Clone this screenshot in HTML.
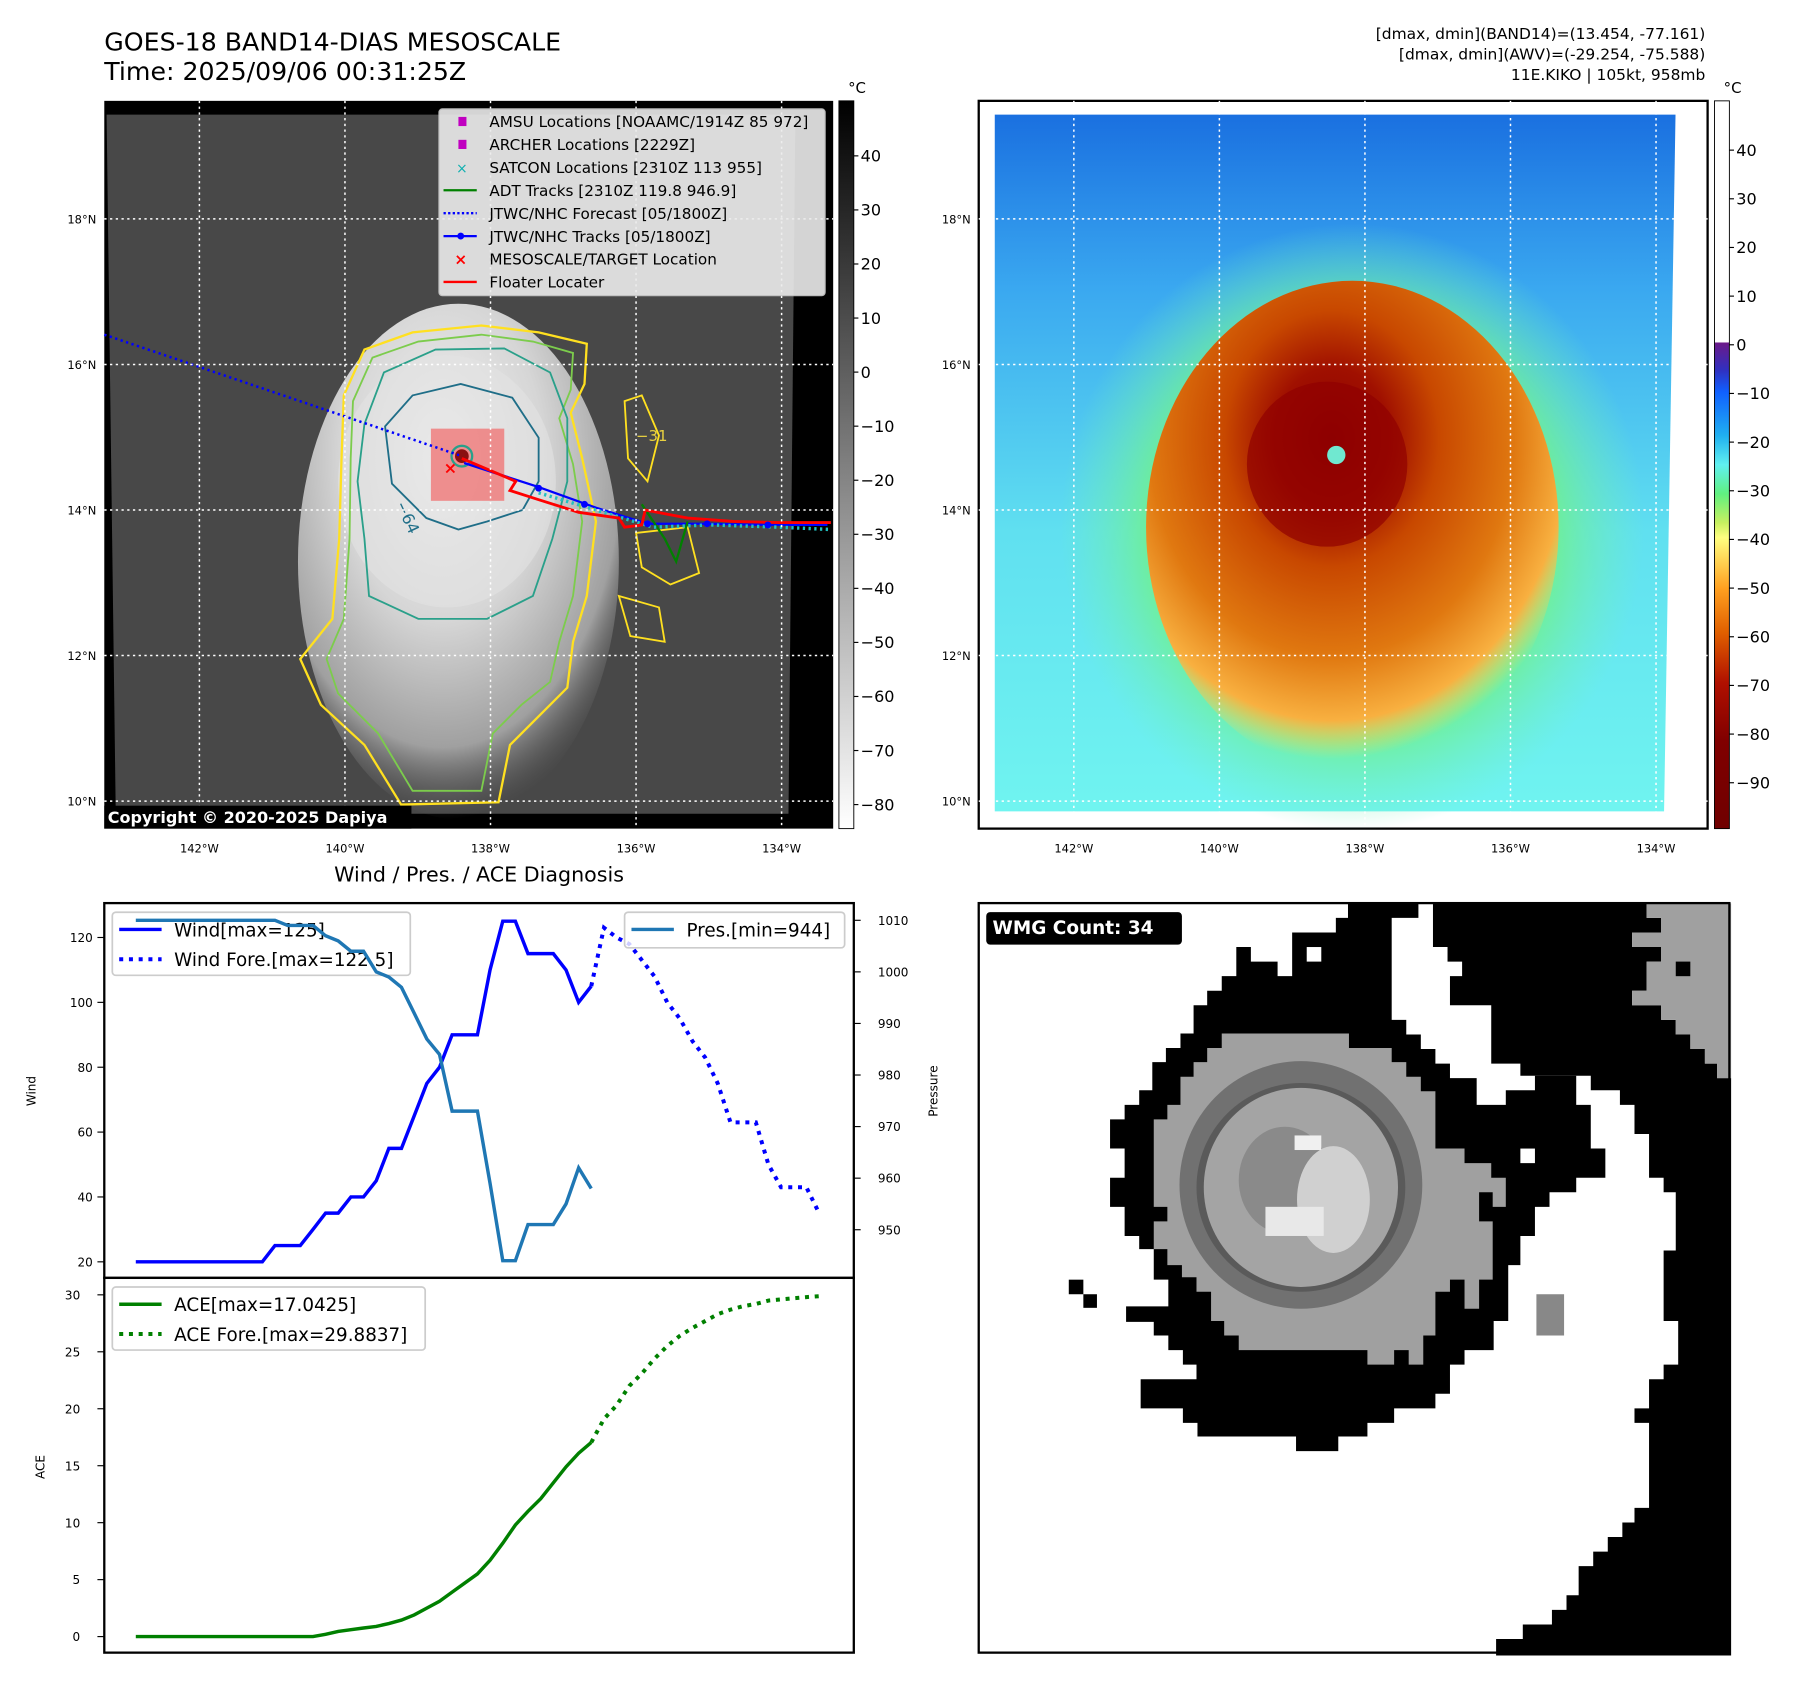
<!DOCTYPE html>
<html><head><meta charset="utf-8"><style>
html,body{margin:0;padding:0;background:#fff;}
svg{display:block;font-family:"DejaVu Sans","Liberation Sans",sans-serif;}
</style></head><body>
<svg id="root" width="1797" height="1690" viewBox="0 0 1568 1474.6" preserveAspectRatio="none" xmlns="http://www.w3.org/2000/svg">
<defs>
<linearGradient id="cbGray" x1="0" y1="0" x2="0" y2="1"><stop offset="0" stop-color="#000"/><stop offset="1" stop-color="#fff"/></linearGradient>
<linearGradient id="cbJet" x1="0" y1="0" x2="0" y2="1">
<stop offset="0" stop-color="#fff"/><stop offset="0.331" stop-color="#fff"/>
<stop offset="0.333" stop-color="#6a1a8a"/><stop offset="0.37" stop-color="#3030c0"/>
<stop offset="0.40" stop-color="#1060ff"/><stop offset="0.46" stop-color="#20b0f0"/>
<stop offset="0.50" stop-color="#60f0f0"/><stop offset="0.54" stop-color="#60f080"/>
<stop offset="0.58" stop-color="#c8f060"/><stop offset="0.60" stop-color="#ffff80"/>
<stop offset="0.67" stop-color="#ffa020"/><stop offset="0.73" stop-color="#e06000"/>
<stop offset="0.80" stop-color="#b01000"/><stop offset="0.88" stop-color="#800000"/><stop offset="1" stop-color="#700000"/>
</linearGradient>
<radialGradient id="cloud" cx="0.45" cy="0.3" r="0.7"><stop offset="0" stop-color="#f2f2f2"/><stop offset="0.45" stop-color="#d6d6d6"/><stop offset="0.8" stop-color="#a0a0a0"/><stop offset="1" stop-color="#606060" stop-opacity="0"/></radialGradient>
<linearGradient id="sky" x1="0" y1="0" x2="0" y2="1"><stop offset="0" stop-color="#1a70e0"/><stop offset="0.25" stop-color="#3aa8f0"/><stop offset="0.6" stop-color="#60e0f0"/><stop offset="1" stop-color="#70f4f0"/></linearGradient>
<radialGradient id="halo" cx="0.5" cy="0.5" r="0.5"><stop offset="0" stop-color="#a0f060"/><stop offset="0.7" stop-color="#70f090"/><stop offset="1" stop-color="#70f0c0" stop-opacity="0"/></radialGradient>
<radialGradient id="storm" cx="0.45" cy="0.32" r="0.65"><stop offset="0" stop-color="#8a0000"/><stop offset="0.22" stop-color="#a01000"/><stop offset="0.4" stop-color="#c84800"/><stop offset="0.68" stop-color="#e07810"/><stop offset="0.88" stop-color="#f8b040"/><stop offset="1" stop-color="#f8e060" stop-opacity="0"/></radialGradient>
</defs>

<text x="91" y="44" font-size="22">GOES-18 BAND14-DIAS MESOSCALE</text>
<text x="91" y="70" font-size="22">Time: 2025/09/06 00:31:25Z</text>
<g font-size="13.5" text-anchor="end">
<text x="1488" y="34">[dmax, dmin](BAND14)=(13.454, -77.161)</text>
<text x="1488" y="52">[dmax, dmin](AWV)=(-29.254, -75.588)</text>
<text x="1488" y="70">11E.KIKO | 105kt, 958mb</text>
</g>

<g>
<rect x="91" y="88" width="636" height="635" fill="#000"/>
<polygon points="93,100 694,100 688,710 101,710" fill="#484848"/>
<ellipse cx="400" cy="490" rx="140" ry="225" fill="url(#cloud)"/>
<ellipse cx="390" cy="420" rx="95" ry="110" fill="#e2e2e2" opacity="0.6"/>
<path d="M300,345 L318,305 L360,290 L420,284 L470,290 L512,300 L510,335 L498,360 L508,400 L520,455 L512,520 L500,560 L495,600 L470,625 L445,650 L435,700 L350,702 L318,650 L280,615 L262,575 L290,540 L296,470 L298,400 Z" fill="none" stroke="#ffe020" stroke-width="2"/>
<path d="M308,350 L325,312 L365,298 L420,292 L465,298 L500,308 L498,340 L488,365 L500,405 L508,455 L500,520 L488,560 L480,595 L455,615 L430,640 L420,690 L360,690 L330,640 L295,605 L285,575 L300,540 L305,470 L306,400 Z" fill="none" stroke="#7ccc4c" stroke-width="1.6"/>
<path d="M318,370 L335,325 L380,305 L440,304 L480,325 L495,365 L495,420 L482,470 L465,520 L425,540 L365,540 L322,520 L318,470 L312,420 Z" fill="none" stroke="#2aa08a" stroke-width="1.6"/>
<path d="M336,372 L360,345 L402,335 L447,347 L470,382 L470,420 L456,445 L425,455 L400,462 L372,452 L342,422 Z" fill="none" stroke="#1f6e88" stroke-width="1.6"/>
<path d="M545,350 L560,345 L575,380 L565,420 L548,400 Z M555,465 L600,460 L610,500 L585,510 L560,495 Z M540,520 L575,530 L580,560 L550,555 Z" fill="none" stroke="#ffe020" stroke-width="1.6"/>
<text x="345" y="440" font-size="14" fill="#1f6e88" transform="rotate(65 345 440)">−64</text>
<text x="555" y="385" font-size="13" fill="#e8d040">−31</text>
<rect x="376" y="374" width="64" height="63" fill="#f07070" opacity="0.75"/>
<circle cx="403" cy="398" r="9" fill="none" stroke="#2aa08a" stroke-width="2"/>
<circle cx="403" cy="398" r="6" fill="#8a1010"/>
<line x1="91" y1="292" x2="403" y2="398" stroke="#0000ff" stroke-width="2.2" stroke-dasharray="2,3"/>
<polyline points="405,404 470,425 520,443 565,457 617,457 670,458 722,458" fill="none" stroke="#0000ff" stroke-width="2"/>
<polyline points="560,440 580,470 590,490 600,455" fill="none" stroke="#008000" stroke-width="2"/>
<polyline points="470,430 520,445 570,460 620,458 680,460 725,462" fill="none" stroke="#20c0c0" stroke-width="3" stroke-dasharray="2,3"/>
<polyline points="403,400 450,420 445,428 470,436 505,447 540,452 545,460 560,458 563,445 600,452 640,455 680,456 725,456" fill="none" stroke="#ff0000" stroke-width="2.5"/>
<g fill="#0000ff"><circle cx="470" cy="426" r="3"/><circle cx="510" cy="440" r="3"/><circle cx="565" cy="457" r="3"/><circle cx="617" cy="457" r="3"/><circle cx="670" cy="458" r="3"/></g>
<text x="393" y="413" font-size="14" fill="#ff0000" text-anchor="middle" font-weight="bold">×</text>
<g stroke="#fff" stroke-width="1.3" stroke-dasharray="2,3">
<line x1="91" y1="191" x2="727" y2="191"/><line x1="91" y1="318" x2="727" y2="318"/><line x1="91" y1="445" x2="727" y2="445"/><line x1="91" y1="572" x2="727" y2="572"/><line x1="91" y1="699" x2="727" y2="699"/>
<line x1="174" y1="88" x2="174" y2="723"/><line x1="301" y1="88" x2="301" y2="723"/><line x1="428" y1="88" x2="428" y2="723"/><line x1="555" y1="88" x2="555" y2="723"/><line x1="682" y1="88" x2="682" y2="723"/>
</g>
<rect x="91" y="703" width="268" height="20" fill="#000"/>
<text x="94" y="718" font-size="14" font-weight="bold" fill="#fff">Copyright © 2020-2025 Dapiya</text>
<g>
<rect x="383" y="95" width="337" height="163" rx="3" fill="#ececec" opacity="0.9" stroke="#ccc"/>
<g font-size="13.3">
<rect x="400" y="102" width="7" height="8" fill="#c000c0"/><text x="427" y="111">AMSU Locations [NOAAMC/1914Z 85 972]</text>
<rect x="400" y="122" width="7" height="8" fill="#c000c0"/><text x="427" y="131">ARCHER Locations [2229Z]</text>
<text x="403" y="151" fill="#10b0b0" text-anchor="middle" font-size="12">×</text><text x="427" y="151">SATCON Locations [2310Z 113 955]</text>
<line x1="387" y1="166" x2="416" y2="166" stroke="#008000" stroke-width="2"/><text x="427" y="171">ADT Tracks [2310Z 119.8 946.9]</text>
<line x1="387" y1="186" x2="416" y2="186" stroke="#0000ff" stroke-width="2" stroke-dasharray="2,2"/><text x="427" y="191">JTWC/NHC Forecast [05/1800Z]</text>
<line x1="387" y1="206" x2="416" y2="206" stroke="#0000ff" stroke-width="2"/><circle cx="402" cy="206" r="3" fill="#0000ff"/><text x="427" y="211">JTWC/NHC Tracks [05/1800Z]</text>
<text x="402" y="231" fill="#ff0000" text-anchor="middle" font-weight="bold">×</text><text x="427" y="231">MESOSCALE/TARGET Location</text>
<line x1="387" y1="246" x2="416" y2="246" stroke="#ff0000" stroke-width="2"/><text x="427" y="251">Floater Locater</text>
</g></g>
</g>
<g font-size="10">
<g text-anchor="end"><text x="84" y="195">18°N</text><text x="84" y="322">16°N</text><text x="84" y="449">14°N</text><text x="84" y="576">12°N</text><text x="84" y="703">10°N</text></g>
<g text-anchor="middle"><text x="174" y="744">142°W</text><text x="301" y="744">140°W</text><text x="428" y="744">138°W</text><text x="555" y="744">136°W</text><text x="682" y="744">134°W</text></g>
</g>
<g>
<rect x="732" y="88" width="13" height="635" fill="url(#cbGray)" stroke="#000" stroke-width="0.8"/>
<text x="740" y="81" font-size="13">°C</text>
<g font-size="14" id="cbLeftTicks"></g>
</g>

<g>
<rect x="854" y="88" width="636" height="635" fill="#fff" stroke="#000" stroke-width="2"/>
<polygon points="868,100 1462,100 1452,708 868,708" fill="url(#sky)"/>
<ellipse cx="1180" cy="460" rx="255" ry="265" fill="url(#halo)" opacity="0.85"/>
<ellipse cx="1180" cy="460" rx="180" ry="215" fill="url(#storm)"/>
<ellipse cx="1158" cy="405" rx="70" ry="72" fill="#900000" opacity="0.7"/>
<circle cx="1166" cy="397" r="8" fill="#70e8d0"/>
<g stroke="#fff" stroke-width="1.3" stroke-dasharray="2,3">
<line x1="854" y1="191" x2="1490" y2="191"/><line x1="854" y1="318" x2="1490" y2="318"/><line x1="854" y1="445" x2="1490" y2="445"/><line x1="854" y1="572" x2="1490" y2="572"/><line x1="854" y1="699" x2="1490" y2="699"/>
<line x1="937" y1="88" x2="937" y2="723"/><line x1="1064" y1="88" x2="1064" y2="723"/><line x1="1191" y1="88" x2="1191" y2="723"/><line x1="1318" y1="88" x2="1318" y2="723"/><line x1="1445" y1="88" x2="1445" y2="723"/>
</g>
</g>
<g font-size="10">
<g text-anchor="end"><text x="847" y="195">18°N</text><text x="847" y="322">16°N</text><text x="847" y="449">14°N</text><text x="847" y="576">12°N</text><text x="847" y="703">10°N</text></g>
<g text-anchor="middle"><text x="937" y="744">142°W</text><text x="1064" y="744">140°W</text><text x="1191" y="744">138°W</text><text x="1318" y="744">136°W</text><text x="1445" y="744">134°W</text></g>
</g>
<g>
<rect x="1496" y="88" width="13" height="635" fill="url(#cbJet)" stroke="#000" stroke-width="0.8"/>
<text x="1504" y="81" font-size="13">°C</text>
<g font-size="14" id="cbRightTicks"></g>
</g>

<text x="418" y="769" font-size="18" text-anchor="middle">Wind / Pres. / ACE Diagnosis</text>
<g id="chart"></g>

<g>
<rect x="854" y="788" width="655" height="654" fill="#fff"/>
<g transform="translate(854.2,788.2) scale(0.4237)">
<polygon fill="#000" points="530,90 560,90 560,120 615,120 615,150 645,150 645,60 735,60 735,30 760,30 760,0 905,0 905,30 850,30 850,240 880,240 880,270 910,270 910,300 940,300 940,330 970,330 970,360 1025,360 1025,415 1085,415 1085,385 1145,385 1145,355 1230,355 1230,415 1260,415 1260,505 1290,505 1290,565 1230,565 1230,595 1175,595 1175,625 1145,625 1145,685 1115,685 1115,745 1090,745 1090,860 1060,860 1060,920 1000,920 1000,950 970,950 970,1010 940,1010 940,1040 855,1040 855,1070 800,1070 800,1098 740,1098 740,1128 653,1128 653,1098 450,1098 450,1070 420,1070 420,1040 333,1040 333,980 448,980 448,950 420,950 420,920 390,920 390,890 360,890 360,862 303,862 303,830 390,830 390,775 360,775 360,712 330,712 330,685 300,685 300,625 270,625 270,565 300,565 300,505 270,505 270,445 300,445 300,415 330,415 330,385 357,385 357,327 385,327 385,298 415,298 415,268 442,268 442,210 470,210 470,180 500,180 500,150 530,150"/>
<polygon fill="#000" points="935,0 1375,0 1375,30 1405,30 1405,60 1345,60 1345,90 1405,90 1405,120 1375,120 1375,180 1345,180 1345,210 1405,210 1405,240 1435,240 1435,270 1465,270 1465,300 1495,300 1495,330 1520,330 1520,360 1549,360 1549,1549 1065,1549 1065,1515 1120,1515 1120,1485 1180,1485 1180,1455 1210,1455 1210,1425 1235,1425 1235,1365 1265,1365 1265,1335 1295,1335 1295,1305 1325,1305 1325,1275 1350,1275 1350,1245 1380,1245 1380,1070 1350,1070 1350,1040 1380,1040 1380,980 1410,980 1410,950 1440,950 1440,860 1410,860 1410,715 1435,715 1435,595 1410,595 1410,565 1380,565 1380,475 1350,475 1350,415 1320,415 1320,385 1260,385 1260,355 1115,355 1115,330 1055,330 1055,210 970,210 970,150 995,150 995,120 965,120 965,90 935,90"/>
<rect x="1115" y="505" width="30" height="30" fill="#fff"/>
<rect x="675" y="90" width="30" height="30" fill="#fff"/>
<polygon fill="#a0a0a0" points="1375,0 1549,0 1549,360 1520,360 1520,330 1495,330 1495,300 1465,300 1465,270 1435,270 1435,240 1405,240 1405,210 1345,210 1345,180 1375,180 1375,120 1405,120 1405,90 1345,90 1345,60 1405,60 1405,30 1375,30"/>
<rect x="1435" y="120" width="30" height="30" fill="#000"/>
<polygon fill="#a0a0a0" points="500,268 762,268 762,298 850,298 850,327 880,327 880,357 910,357 910,387 940,387 940,505 1000,505 1000,535 1055,535 1055,565 1085,565 1085,625 1058,625 1058,595 1030,595 1030,655 1058,655 1058,775 1030,775 1030,835 1000,835 1000,775 970,775 970,800 940,800 940,890 915,890 915,950 885,950 885,920 855,920 855,950 800,950 800,920 535,920 535,890 505,890 505,860 478,860 478,800 448,800 448,770 418,770 418,745 388,745 388,712 360,712 360,655 388,655 388,625 360,625 360,445 388,445 388,415 415,415 415,357 442,357 442,327 470,327 470,298 500,298"/>
<rect x="1148" y="805" width="57" height="85" fill="#888"/>
<rect x="185" y="775" width="30" height="30" fill="#000"/><rect x="215" y="805" width="28" height="28" fill="#000"/>
<ellipse cx="663" cy="580" rx="250" ry="255" fill="#717171"/>
<ellipse cx="663" cy="585" rx="215" ry="215" fill="#5a5a5a"/>
<ellipse cx="663" cy="585" rx="200" ry="205" fill="#a4a4a4"/>
<ellipse cx="630" cy="570" rx="95" ry="110" fill="#8a8a8a"/>
<ellipse cx="730" cy="610" rx="75" ry="110" fill="#d0d0d0"/>
<rect x="650" y="478" width="55" height="30" fill="#f0f0f0"/>
<rect x="590" y="625" width="120" height="60" fill="#e8e8e8"/>
<rect x="15" y="18" width="403" height="67" rx="8" fill="#000"/>
<text x="28" y="63" font-size="38" font-weight="bold" fill="#fff">WMG Count: 34</text>
</g>
<rect x="854" y="788" width="655" height="654" fill="none" stroke="#000" stroke-width="2"/>
</g>
</svg>
<script>
var windVals = [20,20,20,20,20,20,20,20,20,20,20,25,25,25,30,35,35,40,40,45,55,55,65,75,80,90,90,90,110,125,125,115,115,115,110,100,105];
var windFore = [105,123,120,118,113,108,100,95,88,83,75,63,63,63,50,43,43,43,35];
var presVals = [1010,1010,1010,1010,1010,1010,1010,1010,1010,1010,1010,1010,1009,1009,1009,1007,1006,1004,1004,1000,999,997,992,987,984,973,973,973,959,944,944,951,951,951,955,962,958];
var aceVals = [0,0,0,0,0,0,0,0,0,0,0,0,0,0,0,0.2,0.45,0.6,0.75,0.9,1.15,1.45,1.9,2.5,3.1,3.9,4.7,5.5,6.7,8.2,9.8,11.0,12.1,13.5,14.9,16.1,17.04];
var aceFore = [17.04,19.1,20.3,22.0,23.1,24.4,25.5,26.4,27.1,27.7,28.3,28.7,29.0,29.2,29.5,29.6,29.7,29.8,29.88];
var windTicks = [20,40,60,80,100,120];
var presTicks = [950,960,970,980,990,1000,1010];
var aceTicks = [0,5,10,15,20,25,30];
var cbLeftTicks = [40,30,20,10,0,-10,-20,-30,-40,-50,-60,-70,-80];
var cbRightTicks = [40,30,20,10,0,-10,-20,-30,-40,-50,-60,-70,-80,-90];
var foreStart = windVals.length - 1;

var NS = "http://www.w3.org/2000/svg";
function mk(tag, attrs, parent){ var e=document.createElementNS(NS,tag); for(var k in attrs) e.setAttribute(k,attrs[k]); parent.appendChild(e); return e; }
function xS(i){ return 118.5 + 11.04*i; }
function yWind(v){ return 1101 - (v-20)*2.83; }
function yPres(p){ return 803 + (1010-p)*4.5; }
function yAce(v){ return 1428 - v*9.94; }
function fmt(v){ return v<0 ? "\u2212"+Math.abs(v) : String(v); }

var gl = document.getElementById('cbLeftTicks');
cbLeftTicks.forEach(function(v){
  var y = 136 + (40-v)*4.717;
  var l = mk('line',{x1:745,y1:y,x2:749,y2:y,stroke:'#000'},gl);
  
  
  var t = mk('text',{x:751,y:y+5},gl); t.textContent = fmt(v);
  
  
});
var gr = document.getElementById('cbRightTicks');
cbRightTicks.forEach(function(v){
  var y = 131 + (40-v)*4.246;
  var l = mk('line',{x1:1509,y1:y,x2:1513,y2:y,stroke:'#000'},gr);
  
  
  var t = mk('text',{x:1515,y:y+5},gr); t.textContent = fmt(v);
  
  
});

var g = document.getElementById('chart');
function pts(arr, off, yf){ return arr.map(function(v,i){ return xS(i+off).toFixed(1)+","+yf(v).toFixed(1); }).join(" "); }

var f1 = mk('rect',{x:91,y:788,width:654,height:327,fill:'#fff',stroke:'#000','stroke-width':2},g);


var f2 = mk('rect',{x:91,y:1115,width:654,height:327,fill:'#fff',stroke:'#000','stroke-width':2},g);



windTicks.forEach(function(v){
  var y=yWind(v);
  var l=mk('line',{x1:85,y1:y,x2:91,y2:y,stroke:'#000'},g);
  
  
  var t=mk('text',{x:81,y:y+4,'font-size':10.5,'text-anchor':'end'},g); t.textContent=v;
  
  
});
presTicks.forEach(function(v){
  var y=yPres(v);
  var l=mk('line',{x1:745,y1:y,x2:751,y2:y,stroke:'#000'},g);
  
  
  var t=mk('text',{x:766,y:y+4,'font-size':10.5},g); t.textContent=v;
  
  
});
aceTicks.forEach(function(v){
  var y=yAce(v);
  var l=mk('line',{x1:85,y1:y,x2:91,y2:y,stroke:'#000'},g);
  
  
  var t=mk('text',{x:70,y:y+4,'font-size':10.5,'text-anchor':'end'},g); t.textContent=v;
  
  
});
var a1=mk('text',{x:31,y:952,'font-size':10.5,'text-anchor':'middle',transform:'rotate(-90 31 952)'},g); a1.textContent='Wind';


var a2=mk('text',{x:818,y:952,'font-size':10.5,'text-anchor':'middle',transform:'rotate(-90 818 952)'},g); a2.textContent='Pressure';


var a3=mk('text',{x:39,y:1280,'font-size':10.5,'text-anchor':'middle',transform:'rotate(-90 39 1280)'},g); a3.textContent='ACE';



var w1=mk('polyline',{points:pts(windVals,0,yWind),fill:'none',stroke:'#0000ff','stroke-width':3},g);


var w2=mk('polyline',{points:pts(windFore,foreStart,yWind),fill:'none',stroke:'#0000ff','stroke-width':3.5,'stroke-dasharray':'3.5,5'},g);



var lg=mk('g',{},g);


mk('rect',{x:98,y:796,width:260,height:55,rx:3,fill:'#fff','fill-opacity':0.8,stroke:'#ccc','stroke-width':1.5},lg);
mk('line',{x1:104,y1:811,x2:141,y2:811,stroke:'#0000ff','stroke-width':3},lg);
mk('line',{x1:104,y1:837,x2:141,y2:837,stroke:'#0000ff','stroke-width':3.5,'stroke-dasharray':'3.5,5'},lg);
var t1=mk('text',{x:152,y:817,'font-size':16},lg); t1.textContent='Wind[max=125]';
var t2=mk('text',{x:152,y:843,'font-size':16},lg); t2.textContent='Wind Fore.[max=122.5]';

var p1=mk('polyline',{points:pts(presVals,0,yPres),fill:'none',stroke:'#1f77b4','stroke-width':3},g);


var pl=mk('g',{},g);


mk('rect',{x:545,y:796,width:192,height:31,rx:3,fill:'#fff','fill-opacity':0.8,stroke:'#ccc','stroke-width':1.5},pl);
mk('line',{x1:551,y1:811,x2:588,y2:811,stroke:'#1f77b4','stroke-width':3},pl);
var t3=mk('text',{x:599,y:817,'font-size':16},pl); t3.textContent='Pres.[min=944]';

var c1=mk('polyline',{points:pts(aceVals,0,yAce),fill:'none',stroke:'#008000','stroke-width':3},g);


var c2=mk('polyline',{points:pts(aceFore,foreStart,yAce),fill:'none',stroke:'#008000','stroke-width':3.5,'stroke-dasharray':'3.5,5'},g);


var al=mk('g',{},g);


mk('rect',{x:98,y:1123,width:273,height:55,rx:3,fill:'#fff','fill-opacity':0.8,stroke:'#ccc','stroke-width':1.5},al);
mk('line',{x1:104,y1:1138,x2:141,y2:1138,stroke:'#008000','stroke-width':3},al);
mk('line',{x1:104,y1:1164,x2:141,y2:1164,stroke:'#008000','stroke-width':3.5,'stroke-dasharray':'3.5,5'},al);
var t4=mk('text',{x:152,y:1144,'font-size':16},al); t4.textContent='ACE[max=17.0425]';
var t5=mk('text',{x:152,y:1170,'font-size':16},al); t5.textContent='ACE Fore.[max=29.8837]';
</script>
</body></html>
